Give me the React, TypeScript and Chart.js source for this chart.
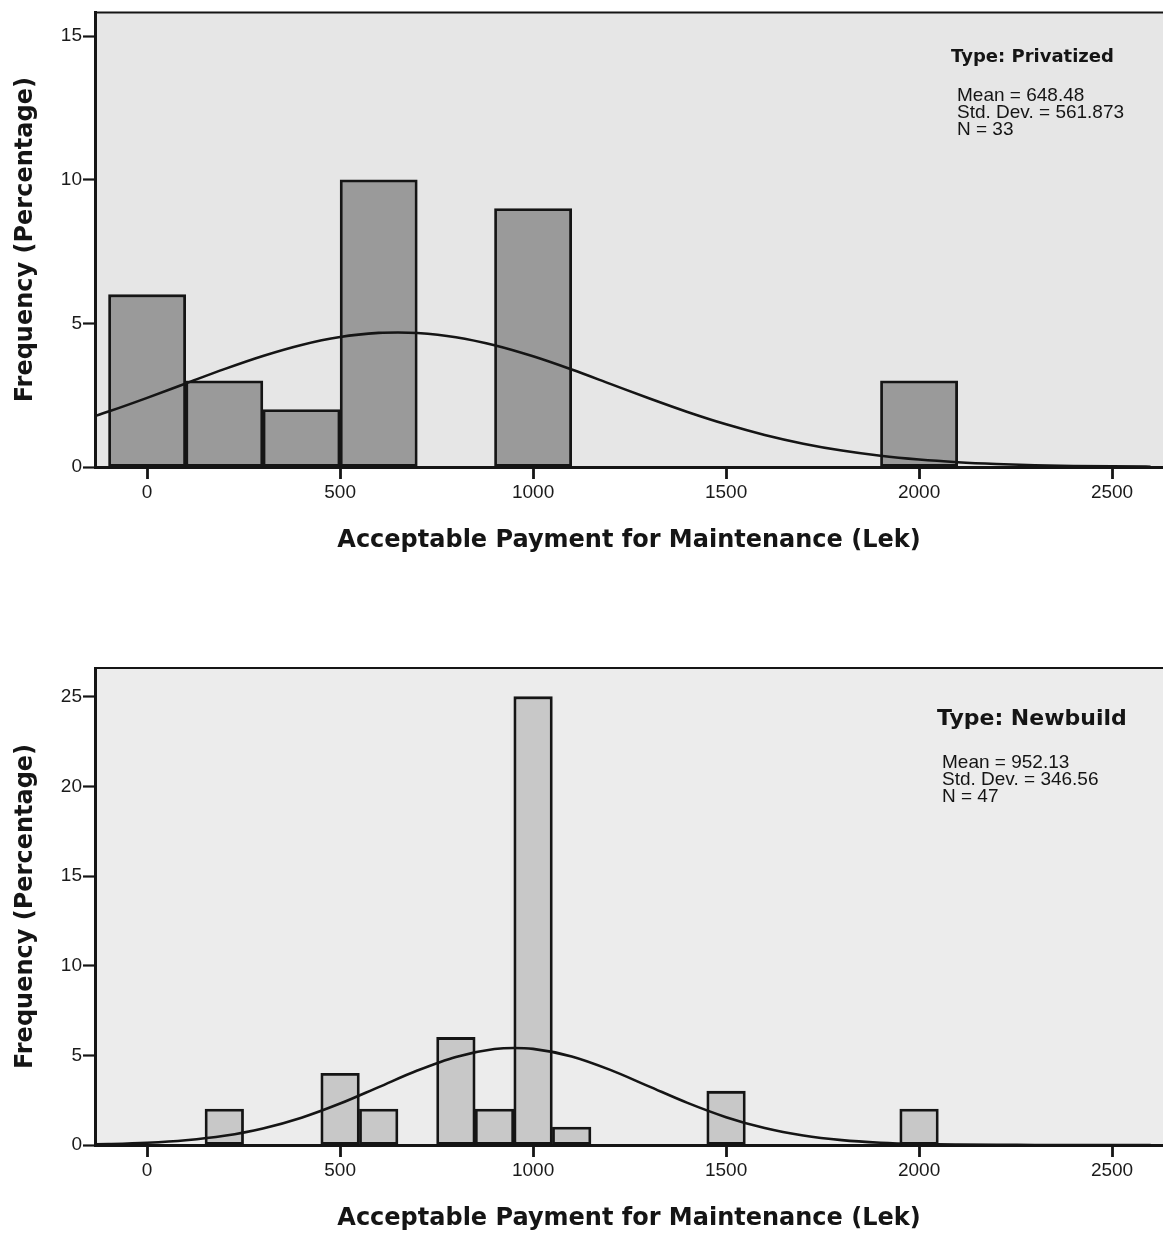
import { useEffect, useRef } from "react";
import { Chart, registerables } from "chart.js";

Chart.register(...registerables);

// ---------- shared axis data ----------
const xTickValues = [0, 500, 1000, 1500, 2000, 2500];
const xAxisTitle = "Acceptable Payment for Maintenance (Lek)";
const yAxisTitle = "Frequency (Percentage)";

// ---------- Type: Privatized ----------
const privTitle = "Type: Privatized";
const privStats = ["Mean = 648.48", "Std. Dev. = 561.873", "N = 33"];
const privBinCenters = [0, 200, 400, 600, 1000, 2000];
const privCounts = [6, 3, 2, 10, 9, 3];
const privYTicks = [0, 5, 10, 15];
const privCurveX = [-150, -100, 0, 100, 200, 300, 400, 500, 600, 650, 700, 800, 900, 1000, 1100, 1200, 1300, 1400, 1500, 1600, 1700, 1800, 1900, 2000, 2100, 2200, 2300, 2400, 2500, 2600];
const privCurveY = [1.707, 1.93, 2.408, 2.91, 3.408, 3.866, 4.25, 4.525, 4.669, 4.686, 4.666, 4.519, 4.239, 3.853, 3.393, 2.895, 2.393, 1.916, 1.486, 1.117, 0.813, 0.574, 0.392, 0.26, 0.167, 0.104, 0.062, 0.036, 0.021, 0.011];

// ---------- Type: Newbuild ----------
const newTitle = "Type: Newbuild";
const newStats = ["Mean = 952.13", "Std. Dev. = 346.56", "N = 47"];
const newBinCenters = [200, 500, 600, 800, 900, 1000, 1100, 1500, 2000];
const newCounts = [2, 4, 2, 6, 2, 25, 1, 3, 2];
const newYTicks = [0, 5, 10, 15, 20, 25];
const newCurveX = [-150, -100, 0, 100, 200, 300, 400, 500, 600, 700, 800, 900, 950, 1000, 1100, 1200, 1300, 1400, 1500, 1600, 1700, 1800, 1900, 2000, 2100, 2200, 2300, 2400, 2500, 2600];
const newCurveY = [0.034, 0.054, 0.124, 0.263, 0.513, 0.921, 1.521, 2.31, 3.229, 4.152, 4.913, 5.349, 5.41, 5.359, 4.939, 4.189, 3.269, 2.347, 1.551, 0.942, 0.527, 0.271, 0.129, 0.056, 0.023, 0.008, 0.003, 0.001, 0.0003, 0.0001];

const INK = "#151515";
const TICK_FONT = "'Liberation Sans', Arial, sans-serif";
const TITLE_FONT = "'DejaVu Sans', Verdana, sans-serif";

const plotFramePlugin = {
  id: "plotFrame",
  beforeDraw(chart: any, _args: any, opts: any) {
    const { ctx, chartArea } = chart;
    if (!chartArea) return;
    const { left, top, right, bottom } = chartArea;
    ctx.save();
    ctx.fillStyle = opts.background || "#e8e8e8";
    ctx.fillRect(left, top, right - left, bottom - top);
    ctx.restore();
  },
  afterDraw(chart: any) {
    const { ctx, chartArea } = chart;
    if (!chartArea) return;
    const { left, top, right } = chartArea;
    ctx.save();
    ctx.strokeStyle = INK;
    ctx.lineWidth = 2;
    ctx.beginPath();
    ctx.moveTo(left - 1, top);
    ctx.lineTo(right, top);
    ctx.stroke();
    ctx.restore();
  },
};

const statsPlugin = {
  id: "statsBox",
  afterDraw(chart: any, _args: any, opts: any) {
    if (!opts || !opts.title) return;
    const { ctx } = chart;
    ctx.save();
    ctx.fillStyle = INK;
    ctx.textBaseline = "alphabetic";
    ctx.textAlign = "left";
    ctx.font = opts.titleFont;
    ctx.fillText(opts.title, opts.titleX, opts.titleY);
    ctx.font = opts.lineFont;
    (opts.lines as string[]).forEach((t, i) => {
      ctx.fillText(t, opts.lineX, opts.lineY + i * opts.lineStep);
    });
    ctx.restore();
  },
};

type HistProps = {
  width: number;
  height: number;
  centers: number[];
  counts: number[];
  curveX: number[];
  curveY: number[];
  yTicks: number[];
  yMax: number;
  barColor: string;
  plotBg: string;
  padTop: number;
  xAxisHeight: number;
  xTitlePadBottom: number;
  stats: any;
};

function Histogram(p: HistProps) {
  const ref = useRef<HTMLCanvasElement | null>(null);
  useEffect(() => {
    if (!ref.current) return;
    const chart = new Chart(ref.current, {
      type: "bar",
      data: {
        datasets: [
          {
            type: "line",
            data: p.curveX.map((x, i) => ({ x, y: p.curveY[i] })),
            borderColor: INK,
            borderWidth: 2.6,
            pointRadius: 0,
            cubicInterpolationMode: "monotone",
            fill: false,
            order: 0,
          } as any,
          {
            type: "bar",
            data: p.centers.map((x, i) => ({ x, y: p.counts[i] })),
            backgroundColor: p.barColor,
            borderColor: INK,
            borderWidth: 2.8,
            borderSkipped: false,
            barPercentage: 1,
            categoryPercentage: 1,
            order: 1,
          } as any,
        ],
      },
      options: {
        responsive: false,
        animation: false,
        devicePixelRatio: 1,
        layout: { padding: { top: p.padTop, left: 0, right: 0, bottom: 0 } },
        plugins: {
          legend: { display: false },
          tooltip: { enabled: false },
          plotFrame: { background: p.plotBg },
          statsBox: p.stats,
        } as any,
        scales: {
          x: {
            type: "linear",
            min: -135,
            max: 2632,
            offset: false,
            afterBuildTicks: (s: any) => {
              s.ticks = xTickValues.map((v) => ({ value: v }));
            },
            afterFit: (s: any) => {
              s.height = p.xAxisHeight;
            },
            grid: {
              display: true,
              offset: false,
              drawOnChartArea: false,
              drawTicks: true,
              tickLength: 12,
              tickWidth: 2.8,
              tickColor: INK,
            },
            border: { display: true, color: INK, width: 3 },
            ticks: {
              font: { family: TICK_FONT, size: 19 },
              color: "#1a1a1a",
              padding: 2,
              maxRotation: 0,
              autoSkip: false,
              callback: (v: any) => String(v),
            },
            title: {
              display: true,
              text: xAxisTitle,
              font: { family: TITLE_FONT, size: 24, weight: "bold" },
              color: INK,
              padding: { top: 0, bottom: p.xTitlePadBottom },
            },
          },
          y: {
            type: "linear",
            min: 0,
            max: p.yMax,
            afterBuildTicks: (s: any) => {
              s.ticks = p.yTicks.map((v) => ({ value: v }));
            },
            afterFit: (s: any) => {
              s.width = 95;
            },
            grid: {
              display: true,
              drawOnChartArea: false,
              drawTicks: true,
              tickLength: 12,
              tickWidth: 2.2,
              tickColor: INK,
            },
            border: { display: true, color: INK, width: 3 },
            ticks: {
              font: { family: TICK_FONT, size: 19 },
              color: "#1a1a1a",
              padding: 1,
              callback: (v: any) => String(v),
            },
            title: {
              display: true,
              text: yAxisTitle,
              font: { family: TITLE_FONT, size: 24, weight: "bold" },
              color: INK,
              padding: { top: 11, bottom: 0 },
            },
          },
        },
      } as any,
      plugins: [plotFramePlugin, statsPlugin],
    });
    return () => chart.destroy();
  }, []);
  return (
    <canvas
      ref={ref}
      width={p.width}
      height={p.height}
      style={{ display: "block", width: p.width, height: p.height }}
    />
  );
}

export default function App() {
  return (
    <div
      style={{
        position: "absolute",
        left: 0,
        top: 0,
        width: 1163,
        height: 1233,
        background: "#ffffff",
        overflow: "hidden",
      }}
    >
      <Histogram
        width={1163}
        height={580}
        centers={privBinCenters}
        counts={privCounts}
        curveX={privCurveX}
        curveY={privCurveY}
        yTicks={privYTicks}
        yMax={15.83}
        barColor="#9a9a9a"
        plotBg="#e6e6e6"
        padTop={10}
        xAxisHeight={113}
        xTitlePadBottom={25}
        stats={{
          title: privTitle,
          titleFont: "bold 18px 'DejaVu Sans', Verdana, sans-serif",
          titleX: 951,
          titleY: 62,
          lines: privStats,
          lineFont: "19px 'Liberation Sans', Arial, sans-serif",
          lineX: 957,
          lineY: 101,
          lineStep: 17,
        }}
      />
      <Histogram
        width={1163}
        height={653}
        centers={newBinCenters}
        counts={newCounts}
        curveX={newCurveX}
        curveY={newCurveY}
        yTicks={newYTicks}
        yMax={26.6}
        barColor="#c8c8c8"
        plotBg="#ececec"
        padTop={88}
        xAxisHeight={88}
        xTitlePadBottom={0}
        stats={{
          title: newTitle,
          titleFont: "bold 22px 'DejaVu Sans', Verdana, sans-serif",
          titleX: 937,
          titleY: 145,
          lines: newStats,
          lineFont: "19px 'Liberation Sans', Arial, sans-serif",
          lineX: 942,
          lineY: 188,
          lineStep: 17,
        }}
      />
    </div>
  );
}
